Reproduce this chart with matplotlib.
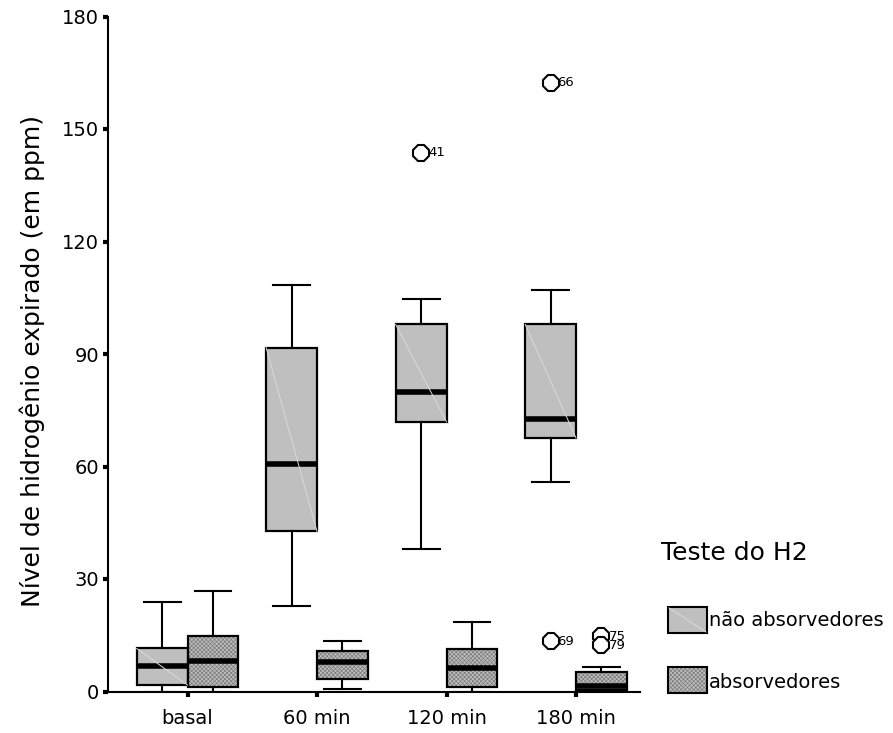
import matplotlib
matplotlib.use("Agg")
import matplotlib.pyplot as plt
from matplotlib.patches import Rectangle
from matplotlib.lines import Line2D

plt.rcParams['font.family'] = ['DejaVu Sans']
plt.rcParams['hatch.linewidth'] = 0.45

# ---------------- data ----------------
categories = ['basal', '60 min', '120 min', '180 min']
series_names = ['não absorvedores', 'absorvedores']

na_whislo = [0.0, 22.9, 38.1, 55.8]
na_q1     = [1.7, 42.7, 71.9, 67.6]
na_med    = [6.7, 60.8, 79.8, 72.8]
na_q3     = [11.5, 91.7, 97.9, 97.9]
na_whishi = [23.8, 108.5, 104.8, 107.0]
na_fliers = [[], [], [143.6], [162.3, 13.4]]
na_flier_ids = [[], [], ['41'], ['66', '69']]

ab_whislo = [0.0, 0.7, 0.0, 0.0]
ab_q1     = [1.3, 3.4, 1.2, 0.5]
ab_med    = [8.1, 7.9, 6.3, 1.6]
ab_q3     = [14.7, 10.9, 11.4, 5.1]
ab_whishi = [26.7, 13.6, 18.5, 6.6]
ab_fliers = [[], [], [], [14.7, 12.3]]
ab_flier_ids = [[], [], [], ['75', '79']]

y_ticks = [0, 30, 60, 90, 120, 150, 180]
y_label = 'Nível de hidrogênio expirado (em ppm)'
legend_title = 'Teste do H2'

# ---------------- layout ----------------
W, H = 893, 733
fig = plt.figure(figsize=(W / 100, H / 100), dpi=100)
ax = fig.add_axes([108 / W, (H - 691.5) / H, (640 - 108) / W, (691.5 - 16.5) / H])

bw = 0.393
off = bw / 2
cw = 0.285

na_fill = '#bfbfbf'
ab_fill = '#bcbcbc'


def make_stats(lo, q1, med, q3, hi, fl):
    return [dict(whislo=lo[i], q1=q1[i], med=med[i], q3=q3[i], whishi=hi[i],
                 fliers=fl[i]) for i in range(len(lo))]


na_stats = make_stats(na_whislo, na_q1, na_med, na_q3, na_whishi, na_fliers)
ab_stats = make_stats(ab_whislo, ab_q1, ab_med, ab_q3, ab_whishi, ab_fliers)

na_pos = [i - off for i in range(len(categories))]
ab_pos = [i + off for i in range(len(categories))]

common = dict(widths=bw, patch_artist=True, manage_ticks=False, capwidths=cw,
              whiskerprops=dict(color='black', lw=1.5),
              capprops=dict(color='black', lw=1.5),
              medianprops=dict(color='black', lw=4.0, solid_capstyle='butt'),
              flierprops=dict(marker='8', markersize=12, markerfacecolor='white',
                              markeredgecolor='black', markeredgewidth=1.5,
                              linestyle='none'))

na_art = ax.bxp(na_stats, positions=na_pos,
                boxprops=dict(facecolor=na_fill, edgecolor='black', lw=1.6), **common)
ab_art = ax.bxp(ab_stats, positions=ab_pos,
                boxprops=dict(facecolor='none', edgecolor='black', lw=1.6), **common)

# hatched fill for absorbers, faint diagonal for non-absorbers
for i in range(len(categories)):
    ax.add_patch(Rectangle((ab_pos[i] - bw / 2, ab_q1[i]), bw, ab_q3[i] - ab_q1[i],
                           facecolor=ab_fill, edgecolor='#777777', hatch='xxxxxxxx',
                           lw=0, zorder=1.5))
    ax.plot([na_pos[i] - bw / 2, na_pos[i] + bw / 2], [na_q3[i], na_q1[i]],
            color='#dadada', lw=0.7, zorder=2.1)

# outlier labels
for pos, fl, ids in [(na_pos, na_fliers, na_flier_ids), (ab_pos, ab_fliers, ab_flier_ids)]:
    for i in range(len(categories)):
        for v, lab in zip(fl[i], ids[i]):
            ax.annotate(lab, (pos[i], v), xytext=(5, 0), textcoords='offset points',
                        ha='left', va='center', fontsize=9.5, zorder=4)

ax.set_xlim(-0.614, 3.494)
ax.set_ylim(0, 180)
ax.set_xticks(range(len(categories)))
ax.set_xticklabels(categories, fontsize=14)
ax.set_yticks(y_ticks)
ax.set_yticklabels([str(t) for t in y_ticks], fontsize=14)
ax.tick_params(axis='y', direction='out', length=3.5, width=3, pad=3)
ax.tick_params(axis='x', direction='out', length=3.5, width=3, pad=9)
for s in ['top', 'right']:
    ax.spines[s].set_visible(False)
for s in ['left', 'bottom']:
    ax.spines[s].set_linewidth(1.5)
ax.patch.set_visible(False)

fig.text(32 / W, 1 - 361 / H, y_label, rotation=90, ha='center', va='center', fontsize=18)

# ---------------- legend (manual) ----------------
def fx(x):
    return x / W


def fy(y):
    return 1 - y / H


fig.text(fx(661), fy(553), legend_title, ha='left', va='center', fontsize=18)
r1 = Rectangle((fx(668), fy(633)), (707 - 668) / W, (633 - 607) / H,
               transform=fig.transFigure, facecolor=na_fill, edgecolor='black', lw=1.5)
fig.add_artist(r1)
fig.add_artist(Line2D([fx(669), fx(706)], [fy(608), fy(632)], transform=fig.transFigure,
                      color='#dadada', lw=0.7))
r2 = Rectangle((fx(668), fy(693)), (707 - 668) / W, (693 - 667) / H,
               transform=fig.transFigure, facecolor=ab_fill, edgecolor='#777777',
               hatch='xxxxxxxx', lw=0)
fig.add_artist(r2)
r2b = Rectangle((fx(668), fy(693)), (707 - 668) / W, (693 - 667) / H,
                transform=fig.transFigure, facecolor='none', edgecolor='black', lw=1.5)
fig.add_artist(r2b)
fig.text(fx(709), fy(620), series_names[0], ha='left', va='center', fontsize=14)
fig.text(fx(709), fy(682), series_names[1], ha='left', va='center', fontsize=14)

fig.savefig('out.png', dpi=100)
